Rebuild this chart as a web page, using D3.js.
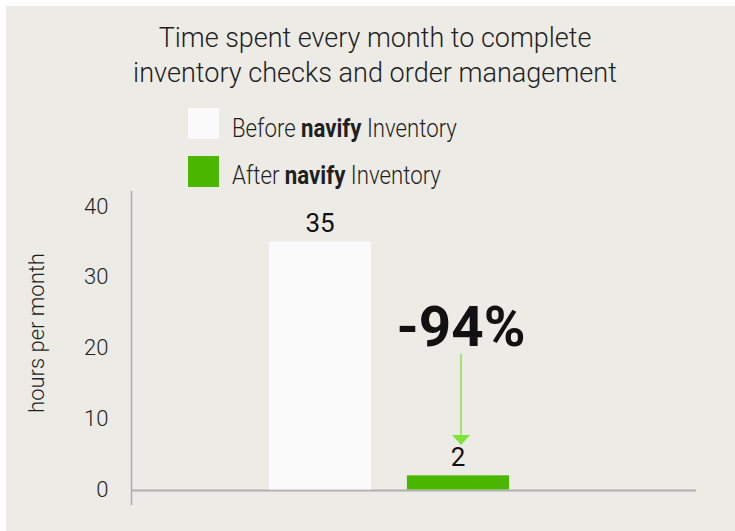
<!DOCTYPE html>
<html>
<head>
<meta charset="utf-8">
<script src="https://cdn.jsdelivr.net/npm/d3@7"></script>
<style>
  body { margin: 0; background: #ffffff; }
  svg { display: block; font-family: Roboto, "Noto Sans", sans-serif; }
</style>
</head>
<body>
<div id="chart"></div>
<script>
// data
const categories = ["Before", "After"];
const hours = [35, 2];
const barColors = ["#fafafa", "#4cb700"];
const legendLabels = [["Before ", "navify", " Inventory"], ["After ", "navify", " Inventory"]];
const yTicks = [0, 10, 20, 30, 40];
const titleLines = ["Time spent every month to complete", "inventory checks and order management"];
const changeLabel = "-94%";

const outerWidth = 735;
const outerHeight = 531;
const margin = { top: 206, right: 39, bottom: 41, left: 131.5 };

const svg = d3.select("#chart").append("svg")
	.attr("width", outerWidth)
	.attr("height", outerHeight);

// squeeze text horizontally to the measured width
const fitWidth = (sel, w) => {
	const bb = sel.node().getBBox();
	const x0 = +sel.attr("x");
	const sx = w / bb.width;
	sel.attr("transform", `translate(${x0},0) scale(${sx},1) translate(${-x0},0)`);
};

svg.append("rect")
	.attr("x", 6).attr("y", 6)
	.attr("width", outerWidth - 6).attr("height", outerHeight - 6)
	.attr("fill", "#ecebe6");

// title
titleLines.forEach((t, i) => {
	const txt = svg.append("text")
		.attr("x", 375)
		.attr("y", 47 + i * 35)
		.attr("text-anchor", "middle")
		.style("font-size", "28px")
		.style("font-weight", 300)
		.attr("fill", "#1f1f1f")
		.text(t);
	fitWidth(txt, i === 0 ? 433 : 484);
});

// legend
const legendWidths = [225, 209];
legendLabels.forEach((parts, i) => {
	svg.append("rect")
		.attr("x", 188)
		.attr("y", 108 + i * 48)
		.attr("width", 31)
		.attr("height", 31)
		.attr("fill", barColors[i]);
	const txt = svg.append("text")
		.attr("x", 232)
		.attr("y", 137 + i * 47)
		.style("font-size", "26px")
		.style("font-weight", 300)
		.attr("fill", "#1f1f1f");
	parts.forEach((p, j) => {
		txt.append("tspan")
			.style("font-weight", j === 1 ? 700 : 300)
			.text(p);
	});
	fitWidth(txt, legendWidths[i]);
});

// scales
const y = d3.scaleLinear()
	.domain([0, 40])
	.range([outerHeight - margin.bottom - 0.5, margin.top]);

const x = d3.scaleBand()
	.domain(categories)
	.range([251, 527])
	.paddingInner(0.26)
	.paddingOuter(0.13);

// axes
const yAxis = svg.append("g")
	.attr("transform", `translate(${margin.left},0)`)
	.call(d3.axisLeft(y).tickValues(yTicks).tickSize(0).tickPadding(23));
yAxis.select(".domain").remove();
yAxis.selectAll("text")
	.style("font-size", "22px")
	.style("font-weight", 300)
	.style("font-family", "Roboto, sans-serif")
	.attr("fill", "#1f1f1f");

svg.append("line")
	.attr("x1", margin.left).attr("x2", margin.left)
	.attr("y1", 191).attr("y2", 505)
	.attr("stroke", "#aaaaaa")
	.attr("stroke-width", 1.5);

svg.append("line")
	.attr("x1", margin.left).attr("x2", outerWidth - margin.right)
	.attr("y1", y(0) + 1).attr("y2", y(0) + 1)
	.attr("stroke", "#b0b0b0")
	.attr("stroke-width", 2);

svg.append("text")
	.attr("transform", `translate(44, 333) rotate(-90)`)
	.attr("text-anchor", "middle")
	.style("font-size", "22px")
	.style("font-weight", 300)
	.attr("fill", "#1f1f1f")
	.text("hours per month");

// bars
svg.selectAll(".bar")
	.data(hours)
	.enter()
	.append("rect")
	.attr("class", "bar")
	.attr("x", (d, i) => x(categories[i]))
	.attr("y", d => y(d))
	.attr("width", x.bandwidth())
	.attr("height", d => y(0) - y(d))
	.attr("fill", (d, i) => barColors[i]);

svg.selectAll(".value")
	.data(hours)
	.enter()
	.append("text")
	.attr("class", "value")
	.attr("x", (d, i) => x(categories[i]) + x.bandwidth() / 2)
	.attr("y", d => y(d) - 9)
	.attr("text-anchor", "middle")
	.style("font-size", "26px")
	.attr("fill", "#111")
	.text(d => d);

// change annotation
const cx = x(categories[1]) + x.bandwidth() / 2 + 3;
const pct = svg.append("text")
	.attr("x", cx)
	.attr("y", 346)
	.attr("text-anchor", "middle")
	.style("font-size", "56px")
	.style("font-weight", 700)
	.attr("fill", "#111")
	.text(changeLabel);
fitWidth(pct, 129);

svg.append("line")
	.attr("x1", cx).attr("x2", cx)
	.attr("y1", 354).attr("y2", 436)
	.attr("stroke", "#a3e370")
	.attr("stroke-width", 2);

svg.append("path")
	.attr("d", `M${cx - 9},435 L${cx + 9},435 L${cx},445 Z`)
	.attr("fill", "#7de33b");
</script>
</body>
</html>
